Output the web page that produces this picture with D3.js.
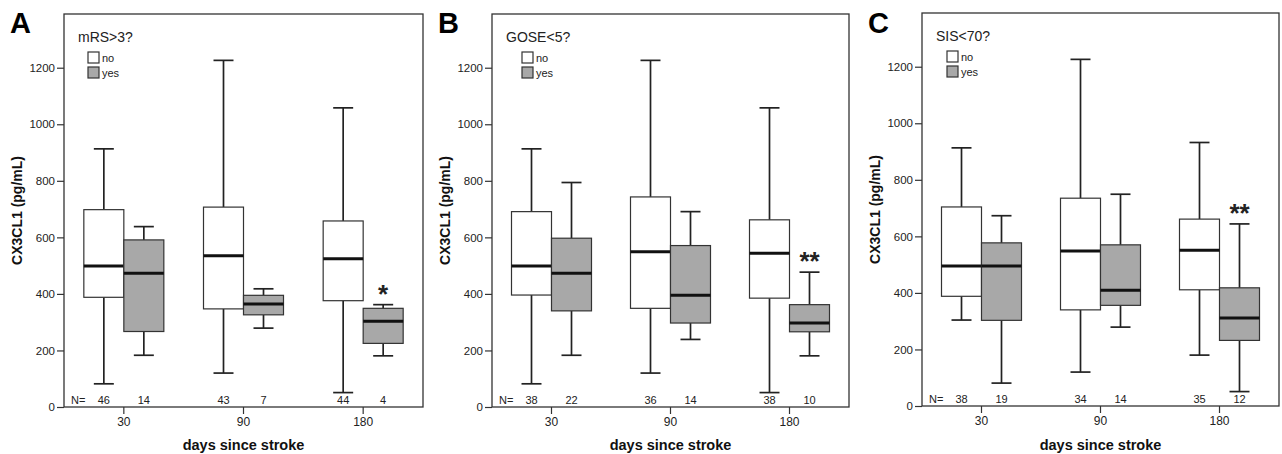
<!DOCTYPE html>
<html>
<head>
<meta charset="utf-8">
<script src="https://cdn.jsdelivr.net/npm/d3@7"></script>
<style>
  body { margin: 0; background: #fff; }
  svg { display: block; font-family: Arial, "Liberation Sans", sans-serif; }
</style>
</head>
<body>
<svg id="chart" width="1282" height="454"></svg>
<script>
// days since stroke
var days = ["30", "90", "180"];
var groups = ["no", "yes"];
var yTicks = [0, 200, 400, 600, 800, 1000, 1200];

// box stats per day: [min, q1, median, q3, max]
var mrsNo  = [[82, 388, 499, 698, 913], [120, 347, 535, 707, 1226], [51, 376, 524, 658, 1058]];
var mrsYes = [[183, 267, 473, 591, 638], [279, 326, 364, 395, 418], [181, 225, 303, 349, 362]];
var mrsN   = [[46, 14], [43, 7], [44, 4]];

var goseNo  = [[82, 396, 499, 691, 913], [120, 349, 549, 743, 1226], [51, 385, 544, 662, 1058]];
var goseYes = [[183, 340, 473, 597, 794], [239, 297, 395, 571, 691], [181, 266, 297, 362, 477]];
var goseN   = [[38, 22], [36, 14], [38, 10]];

var sisNo  = [[304, 388, 495, 704, 913], [120, 340, 548, 735, 1226], [180, 411, 551, 661, 932]];
var sisYes = [[81, 303, 495, 577, 673], [279, 356, 409, 570, 749], [51, 232, 311, 418, 644]];
var sisN   = [[38, 19], [34, 14], [35, 12]];

var panels = [
  {letter: "A", title: "mRS>3?",  no: mrsNo,  yes: mrsYes,  n: mrsN,  sig: ["", "", "*"],
   left: 64,  right: 423,  top: 14, bottom: 407, legDx: 24},
  {letter: "B", title: "GOSE<5?", no: goseNo, yes: goseYes, n: goseN, sig: ["", "", "**"],
   left: 492, right: 849,  top: 14, bottom: 407, legDx: 30},
  {letter: "C", title: "SIS<70?", no: sisNo,  yes: sisYes,  n: sisN,  sig: ["", "", "**"],
   left: 922, right: 1279, top: 13, bottom: 406, legDx: 25}
];

var svg = d3.select("#chart");

panels.forEach(function(p){
  var g = svg.append("g");
  var x = d3.scaleBand().domain(days).range([p.left, p.right]);
  var x1 = d3.scaleBand().domain(groups).range([-40, 40]);
  var y = d3.scaleLinear().domain([0, 1390]).range([p.bottom, p.top]);

  // frame
  g.append("rect")
    .attr("x", p.left).attr("y", p.top)
    .attr("width", p.right - p.left).attr("height", p.bottom - p.top)
    .attr("fill", "none").attr("stroke", "#333").attr("stroke-width", 1.3);

  // y axis
  var yAxis = g.append("g")
    .attr("transform", "translate(" + p.left + ",0)")
    .call(d3.axisLeft(y).tickValues(yTicks).tickSize(7).tickPadding(2).tickFormat(d3.format("d")));
  yAxis.select(".domain").remove();
  yAxis.selectAll("line").attr("stroke", "#333").attr("stroke-width", 1.2);
  yAxis.selectAll("text").attr("font-size", 11.5).attr("fill", "#222")
    .attr("font-family", "Arial, 'Liberation Sans', sans-serif");

  // x axis
  var xAxis = g.append("g")
    .attr("transform", "translate(0," + p.bottom + ")")
    .call(d3.axisBottom(x).tickSize(7).tickPadding(3));
  xAxis.select(".domain").remove();
  xAxis.selectAll("line").attr("stroke", "#333").attr("stroke-width", 1.2);
  xAxis.selectAll("text").attr("font-size", 12).attr("fill", "#222")
    .attr("font-family", "Arial, 'Liberation Sans', sans-serif");

  // boxes
  days.forEach(function(day, i){
    var cx = x(day) + x.bandwidth() / 2;
    groups.forEach(function(grp){
      var s = p[grp][i];
      var bx = cx + x1(grp);
      var bw = x1.bandwidth();
      var mid = bx + bw / 2;
      var bg = g.append("g");
      // whiskers
      bg.append("line").attr("x1", mid).attr("x2", mid).attr("y1", y(s[0])).attr("y2", y(s[1]))
        .attr("stroke", "#222").attr("stroke-width", 1.7);
      bg.append("line").attr("x1", mid).attr("x2", mid).attr("y1", y(s[3])).attr("y2", y(s[4]))
        .attr("stroke", "#222").attr("stroke-width", 1.7);
      [s[0], s[4]].forEach(function(v){
        bg.append("line").attr("x1", mid - bw / 4).attr("x2", mid + bw / 4)
          .attr("y1", y(v)).attr("y2", y(v))
          .attr("stroke", "#222").attr("stroke-width", 1.7);
      });
      bg.append("rect")
        .attr("x", bx).attr("y", y(s[3]))
        .attr("width", bw).attr("height", y(s[1]) - y(s[3]))
        .attr("fill", grp == "yes" ? "#a8a8a8" : "#fff")
        .attr("stroke", "#333").attr("stroke-width", 1.2);
      bg.append("line").attr("x1", bx).attr("x2", bx + bw).attr("y1", y(s[2])).attr("y2", y(s[2]))
        .attr("stroke", "#111").attr("stroke-width", 3);
    });

    // N counts
    groups.forEach(function(grp, k){
      g.append("text")
        .attr("x", cx + x1(grp) + x1.bandwidth() / 2).attr("y", p.bottom - 3)
        .attr("text-anchor", "middle").attr("font-size", 11).attr("fill", "#222")
        .text(p.n[i][k]);
    });

    // significance marks above the "yes" box
    if (p.sig[i]) {
      var sy = p.yes[i][4];
      g.append("text")
        .attr("x", cx + x1("yes") + x1.bandwidth() / 2)
        .attr("y", y(sy) - 17 + 15)
        .attr("text-anchor", "middle").attr("font-size", 26).attr("font-weight", "bold")
        .attr("fill", "#222")
        .text(p.sig[i]);
    }
  });

  g.append("text").attr("x", p.left + 7).attr("y", p.bottom - 3)
    .attr("font-size", 11).attr("fill", "#222").text("N=");

  // legend
  g.append("text").attr("x", p.left + 14).attr("y", p.top + 28)
    .attr("font-size", 14).attr("fill", "#222").text(p.title);
  groups.forEach(function(grp, k){
    g.append("rect")
      .attr("x", p.left + p.legDx).attr("y", p.top + 38 + k * 15)
      .attr("width", 11).attr("height", 11)
      .attr("fill", grp == "yes" ? "#a8a8a8" : "#fff")
      .attr("stroke", "#333").attr("stroke-width", 1.2);
    g.append("text")
      .attr("x", p.left + p.legDx + 14).attr("y", p.top + 48 + k * 15)
      .attr("font-size", 11).attr("fill", "#222").text(grp);
  });

  // axis titles
  var cxFrame = (p.left + p.right) / 2;
  g.append("text").attr("x", cxFrame).attr("y", 450)
    .attr("text-anchor", "middle").attr("font-size", 14.5).attr("font-weight", "bold")
    .attr("fill", "#111").text("days since stroke");
  g.append("text")
    .attr("transform", "translate(" + (p.left - 42) + "," + ((p.top + p.bottom) / 2) + ") rotate(-90)")
    .attr("text-anchor", "middle").attr("font-size", 14).attr("font-weight", "bold")
    .attr("fill", "#111").text("CX3CL1 (pg/mL)");

  // panel letter
  g.append("text").attr("x", p.left - 54).attr("y", 33)
    .attr("font-size", 29).attr("font-weight", "bold").attr("fill", "#000").text(p.letter);
});
</script>
</body>
</html>
